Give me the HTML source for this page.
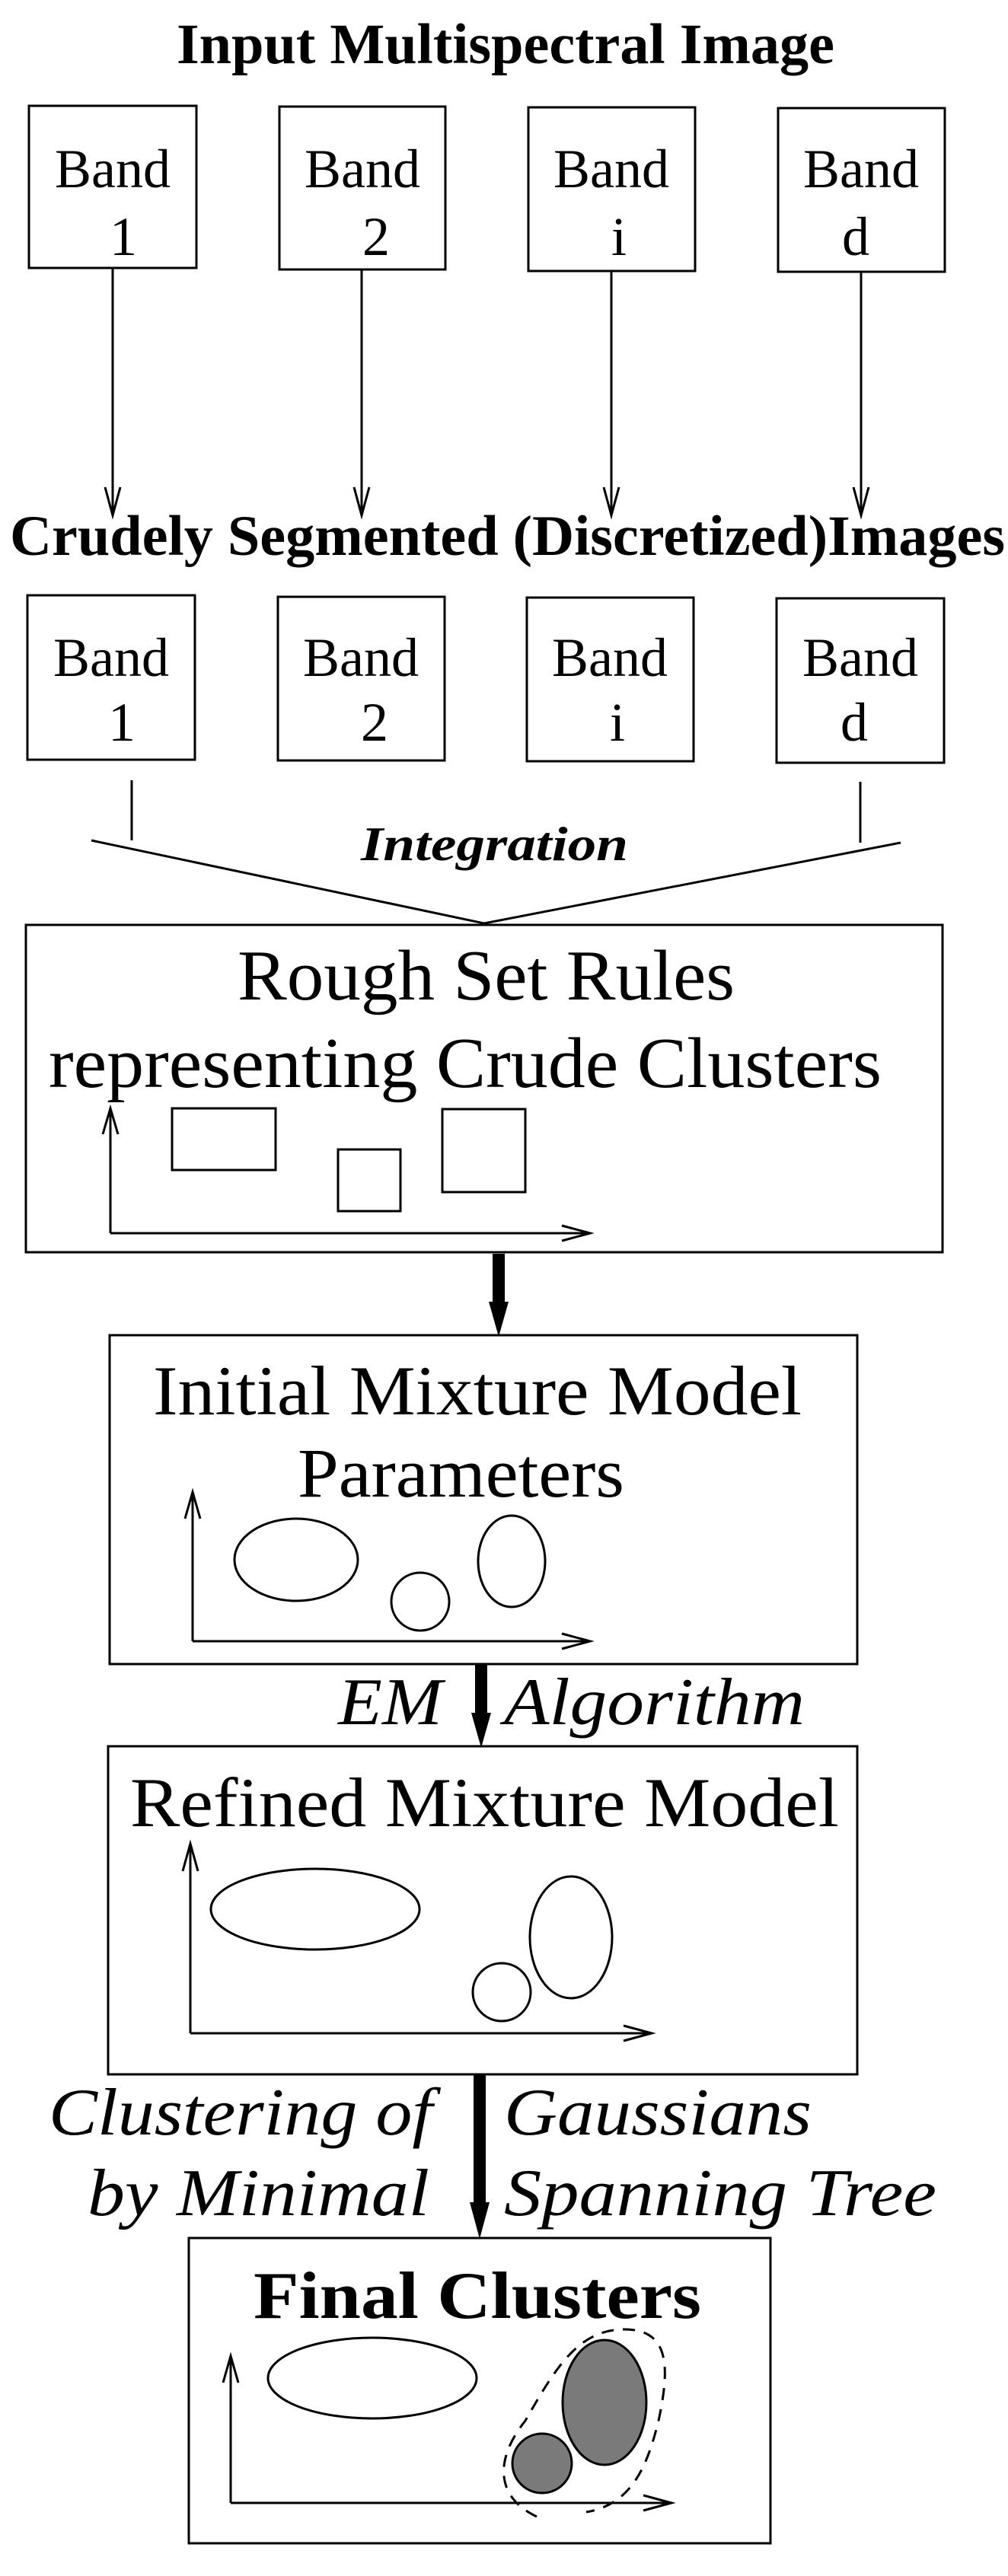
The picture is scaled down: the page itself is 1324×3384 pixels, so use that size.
<!DOCTYPE html>
<html><head><meta charset="utf-8"><style>html,body{margin:0;padding:0;background:#fff}svg{display:block}</style></head>
<body>
<svg width="1324" height="3384" viewBox="0 0 1324 3384" xmlns="http://www.w3.org/2000/svg" font-family="'Liberation Serif', serif">
<g fill="none" stroke="#000" stroke-width="3">
<!-- top boxes -->
<rect x="38" y="139" width="220" height="213"/>
<rect x="367" y="140" width="218" height="214"/>
<rect x="694" y="141" width="219" height="215"/>
<rect x="1022" y="142" width="219" height="215"/>
<!-- arrows -->
<line x1="148" y1="352" x2="148" y2="675"/><polyline points="138,640 148,677 158,640"/>
<line x1="475" y1="354" x2="475" y2="675"/><polyline points="465,640 475,677 485,640"/>
<line x1="803" y1="356" x2="803" y2="675"/><polyline points="793,640 803,677 813,640"/>
<line x1="1131" y1="357" x2="1131" y2="675"/><polyline points="1121,640 1131,677 1141,640"/>
<!-- second boxes -->
<rect x="36" y="782" width="220" height="216"/>
<rect x="365" y="784" width="219" height="215"/>
<rect x="692" y="785" width="219" height="215"/>
<rect x="1020" y="786" width="220" height="216"/>
<line x1="173" y1="1025" x2="173" y2="1104"/>
<line x1="1130" y1="1027" x2="1130" y2="1107"/>
<polyline points="120,1104 636,1213 1183,1107"/>
<!-- rough set box -->
<rect x="34" y="1215" width="1204" height="430"/>
<line x1="145" y1="1458" x2="145" y2="1620"/><polyline points="135,1490 145,1456 155,1490"/>
<line x1="145" y1="1620" x2="773" y2="1620"/><polyline points="738,1610 775,1620 738,1630"/>
<rect x="226" y="1456" width="136" height="81"/>
<rect x="444" y="1510" width="82" height="81"/>
<rect x="581" y="1457" width="109" height="109"/>
<!-- initial box -->
<rect x="144" y="1754" width="982" height="432"/>
<line x1="253" y1="1962" x2="253" y2="2156"/><polyline points="243,1995 253,1960 263,1995"/>
<line x1="253" y1="2156" x2="773" y2="2156"/><polyline points="738,2146 775,2156 738,2166"/>
<ellipse cx="389" cy="2049" rx="81" ry="54"/>
<ellipse cx="552" cy="2104" rx="38" ry="38"/>
<ellipse cx="672" cy="2051" rx="44" ry="60"/>
<!-- refined box -->
<rect x="142" y="2294" width="984" height="431"/>
<line x1="250" y1="2424" x2="250" y2="2671"/><polyline points="240,2458 250,2422 260,2458"/>
<line x1="250" y1="2671" x2="854" y2="2671"/><polyline points="819,2661 856,2671 819,2681"/>
<ellipse cx="414" cy="2508" rx="137" ry="53"/>
<ellipse cx="750" cy="2545" rx="54" ry="80"/>
<ellipse cx="659" cy="2617" rx="38" ry="38"/>
<!-- final box -->
<rect x="248" y="2940" width="764" height="401"/>
<line x1="303" y1="3097" x2="303" y2="3288"/><polyline points="293,3130 303,3095 313,3130"/>
<line x1="303" y1="3288" x2="880" y2="3288"/><polyline points="845,3278 882,3288 845,3298"/>
<ellipse cx="489" cy="3124" rx="137" ry="53"/>
<path d="M705,3306 C650,3280 650,3230 690,3180 C730,3110 760,3060 820,3060 C880,3060 880,3110 865,3180 C850,3240 830,3290 770,3300" stroke-dasharray="16,12"/>
</g>
<ellipse cx="794" cy="3156" rx="55" ry="82" fill="#7a7a7a" stroke="#000" stroke-width="3"/>
<ellipse cx="712" cy="3236" rx="39" ry="39" fill="#7a7a7a" stroke="#000" stroke-width="3"/>
<!-- thick arrows -->
<g fill="#000">
<rect x="647" y="1647" width="16" height="65"/><polygon points="642,1710 668,1710 655,1756"/>
<rect x="624" y="2186" width="16" height="66"/><polygon points="619,2250 645,2250 632,2296"/>
<rect x="622" y="2725" width="16" height="170"/><polygon points="617,2893 643,2893 630,2941"/>
</g>
<!-- text -->
<g fill="#000">
<text x="232" y="83" font-size="75" font-weight="bold" textLength="864" lengthAdjust="spacingAndGlyphs">Input Multispectral Image</text>
<g font-size="72" text-anchor="middle">
<text x="148" y="246">Band</text><text x="162" y="335">1</text>
<text x="476" y="246">Band</text><text x="494" y="335">2</text>
<text x="803" y="246">Band</text><text x="813" y="335">i</text>
<text x="1131" y="246">Band</text><text x="1124" y="335">d</text>
<text x="146" y="888">Band</text><text x="160" y="973">1</text>
<text x="474" y="888">Band</text><text x="492" y="973">2</text>
<text x="801" y="888">Band</text><text x="811" y="973">i</text>
<text x="1130" y="888">Band</text><text x="1122" y="973">d</text>
</g>
<text x="13" y="729" font-size="75" font-weight="bold" textLength="1307" lengthAdjust="spacingAndGlyphs">Crudely Segmented (Discretized)Images</text>
<text x="474" y="1130" font-size="64" font-weight="bold" font-style="italic" textLength="351" lengthAdjust="spacingAndGlyphs">Integration</text>
<text x="312" y="1313" font-size="94" textLength="653" lengthAdjust="spacingAndGlyphs">Rough Set Rules</text>
<text x="64" y="1428" font-size="94" textLength="1094" lengthAdjust="spacingAndGlyphs">representing Crude Clusters</text>
<text x="201" y="1858" font-size="92" textLength="852" lengthAdjust="spacingAndGlyphs">Initial Mixture Model</text>
<text x="391" y="1966" font-size="92" textLength="429" lengthAdjust="spacingAndGlyphs">Parameters</text>
<text x="444" y="2265" font-size="88" font-style="italic" textLength="137" lengthAdjust="spacingAndGlyphs">EM</text>
<text x="662" y="2265" font-size="88" font-style="italic" textLength="395" lengthAdjust="spacingAndGlyphs">Algorithm</text>
<text x="171" y="2399" font-size="92" textLength="931" lengthAdjust="spacingAndGlyphs">Refined Mixture Model</text>
<text x="64" y="2804" font-size="88" font-style="italic" textLength="504" lengthAdjust="spacingAndGlyphs">Clustering of</text>
<text x="115" y="2910" font-size="88" font-style="italic" textLength="449" lengthAdjust="spacingAndGlyphs">by Minimal</text>
<text x="662" y="2804" font-size="88" font-style="italic" textLength="404" lengthAdjust="spacingAndGlyphs">Gaussians</text>
<text x="662" y="2910" font-size="88" font-style="italic" textLength="568" lengthAdjust="spacingAndGlyphs">Spanning Tree</text>
<text x="333" y="3045" font-size="88" font-weight="bold" textLength="588" lengthAdjust="spacingAndGlyphs">Final Clusters</text>
</g>
</svg>
</body></html>
